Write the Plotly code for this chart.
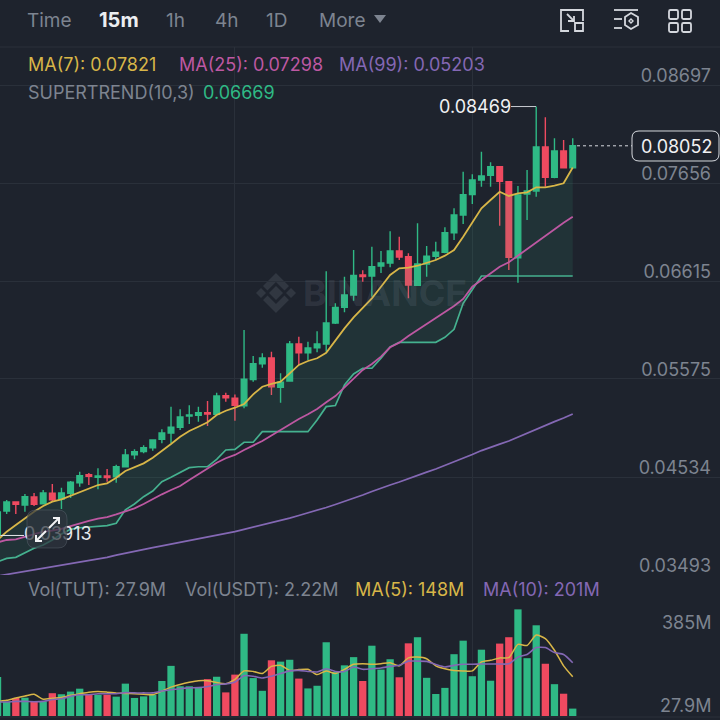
import plotly.graph_objects as go

# Values. Prices are in units of 0.00001 USDT, volumes in millions.
PRICE_UNIT = 1e-5
candle_index = list(range(64))
open_u = [3925,4173,4268,4237,4322,4250,4361,4300,4361,4473,
          4558,4531,4545,4537,4643,4771,4803,4845,4934,5001,
          5062,5182,5189,5217,5200,5398,5370,5291,5568,5737,
          5798,5487,5554,5947,5854,5907,5947,6170,6336,6467,
          6680,6669,6775,6807,6934,6874,6570,6796,6878,6921,
          7129,7317,7533,7689,7738,7830,7671,6863,7540,7572,
          8039,7717,7997,7819]
high_u = [4205,4290,4272,4353,4364,4396,4460,4420,4491,4590,
          4576,4626,4619,4665,4831,4828,4871,4934,5041,5281,
          5253,5296,5281,5341,5429,5429,5410,6095,5819,5848,
          5865,5635,5979,6024,5971,6082,6719,6379,6662,6945,
          6729,6980,6934,7143,7086,6910,7229,6988,7033,7186,
          7388,7777,7749,7989,7877,7830,7671,7625,7795,8469,
          8354,8132,8114,8132]
low_u = [3913,4141,4141,4165,4226,4247,4272,4194,4311,4431,
         4449,4403,4484,4473,4640,4722,4786,4813,4892,4892,
         5033,5097,5121,5076,5192,5334,5132,5264,5546,5695,
         5405,5323,5546,5724,5777,5859,5865,6159,6283,6407,
         6608,6449,6701,6761,6839,6432,6570,6662,6839,6910,
         7051,7221,7434,7617,7617,7203,6733,6598,7264,7511,
         7617,7706,7819,7819]
close_u = [4162,4268,4244,4325,4244,4364,4293,4364,4478,4548,
           4541,4545,4527,4643,4768,4803,4845,4927,5001,5062,
           5171,5192,5217,5203,5394,5376,5296,5572,5737,5798,
           5493,5540,5947,5854,5904,5947,6170,6336,6467,6676,
           6662,6768,6807,6934,6871,6573,6796,6878,6921,7129,
           7317,7533,7689,7731,7830,7675,6868,7529,7572,8039,
           7717,7997,7819,8052]
ma7_u = [3865,3953,4024,4095,4165,4226,4272,4297,4335,4378,
         4414,4449,4467,4527,4598,4637,4679,4739,4810,4884,
         4962,5023,5068,5115,5192,5238,5270,5309,5412,5493,
         5522,5546,5635,5724,5766,5795,5854,5989,6113,6230,
         6336,6432,6555,6680,6751,6757,6778,6810,6839,6885,
         6945,7086,7235,7388,7476,7564,7519,7547,7558,7611,
         7611,7628,7654,7821]
ma25_u = [3840,3865,3872,3900,3929,3953,3964,3982,4013,4042,
          4067,4091,4109,4138,4173,4201,4247,4300,4350,4396,
          4438,4502,4563,4619,4686,4733,4768,4821,4869,4916,
          4975,5033,5097,5150,5200,5256,5327,5394,5487,5582,
          5671,5734,5812,5912,5961,6032,6095,6159,6223,6287,
          6350,6425,6555,6626,6698,6768,6815,6885,6963,7033,
          7104,7168,7235,7298]
ma99_u = [3482,3498,3514,3530,3546,3562,3578,3594,3610,3626,
          3642,3663,3681,3705,3727,3748,3769,3785,3803,3822,
          3838,3856,3875,3891,3913,3934,3955,3978,4001,4024,
          4047,4072,4098,4125,4152,4178,4210,4242,4274,4309,
          4343,4380,4417,4449,4481,4518,4550,4585,4619,4656,
          4693,4733,4773,4815,4853,4884,4916,4959,5001,5044,
          5086,5123,5161,5203]
supertrend_u = [3634,3670,3681,3730,3777,3812,3865,3928,3978,3995,
                4003,4013,4017,4042,4186,4247,4325,4385,4484,4531,
                4584,4633,4643,4643,4722,4821,4828,4903,4903,5015,
                5015,5015,5015,5015,5015,5139,5281,5293,5511,5628,
                5689,5689,5795,5915,5965,5965,5965,5965,5965,6018,
                6103,6379,6520,6669,6669,6669,6669,6669,6669,6669,
                6669,6669,6669,6669]
volume_m = [147,53,68,69,55,55,86,82,92,103,
            80,80,80,73,122,68,74,80,132,189,
            112,112,107,139,148,89,156,310,143,95,
            210,205,212,141,104,114,278,166,191,222,
            132,265,175,214,146,274,297,144,83,106,
            233,284,150,250,133,273,297,402,218,342,
            197,120,84,27.9]
vol_ma5_m = [55,59,68,75,82,63,67,70,78,84,
             90,92,90,87,85,84,82,80,94,109,
             119,127,133,133,126,122,138,170,168,160,
             187,191,172,175,176,156,170,160,176,195,
             197,195,197,201,189,219,222,216,189,178,
             172,170,170,204,210,219,220,270,266,305,
             292,248,189,148]
vol_ma10_m = [53,53,55,55,54,55,62,65,74,80,
              80,84,84,84,88,87,87,87,94,99,
              103,106,107,111,118,121,128,152,150,143,
              150,160,170,172,168,166,178,168,168,185,
              176,178,181,187,191,207,207,206,194,185,
              191,195,195,196,196,196,197,222,232,258,
              258,239,232,201]
price_ticks = [0.08697, 0.07656, 0.06615, 0.05575, 0.04534, 0.03493]
price_tick_labels = ["0.08697", "0.07656", "0.06615", "0.05575", "0.04534", "0.03493"]
time_ticks = [26, 52]

o = [v * PRICE_UNIT for v in open_u]
h = [v * PRICE_UNIT for v in high_u]
l = [v * PRICE_UNIT for v in low_u]
c = [v * PRICE_UNIT for v in close_u]
last_price, high_price, low_price = c[-1], max(h), min(l)

BG = "#1e232d"
GRID = "#2a303a"
UP = "#2fb985"
DOWN = "#ef4a60"
GREY = "#7d8490"
YEL = "#d8b648"
PINK = "#bd58a2"
PUR = "#8468b4"
ST = "#45b18f"
FONT = "Inter"

W, H = 720, 720
def px(x): return x / W
def py(y): return 1 - y / H

fig = go.Figure()
fig.add_trace(go.Candlestick(
    x=candle_index, open=o, high=h, low=l, close=c, whiskerwidth=0,
    increasing=dict(line=dict(color=UP, width=1.4), fillcolor=UP),
    decreasing=dict(line=dict(color=DOWN, width=1.4), fillcolor=DOWN),
    xaxis="x", yaxis="y", showlegend=False, hoverinfo="skip"))
fig.add_trace(go.Scatter(x=candle_index, y=[v * PRICE_UNIT for v in supertrend_u], mode="lines",
                         line=dict(color=ST, width=1.7), showlegend=False, hoverinfo="skip"))
fig.add_trace(go.Scatter(x=candle_index, y=[v * PRICE_UNIT for v in ma7_u], mode="lines",
                         line=dict(color=YEL, width=1.8), fill="tonexty",
                         fillcolor="rgba(60,170,130,0.12)", showlegend=False, hoverinfo="skip"))
fig.add_trace(go.Scatter(x=candle_index, y=[v * PRICE_UNIT for v in ma25_u], mode="lines",
                         line=dict(color=PINK, width=1.8), showlegend=False, hoverinfo="skip"))
fig.add_trace(go.Scatter(x=candle_index, y=[v * PRICE_UNIT for v in ma99_u], mode="lines",
                         line=dict(color=PUR, width=1.8), showlegend=False, hoverinfo="skip"))
# low-price marker: a trace so that the expand button can sit on top of it
fig.add_trace(go.Scatter(x=[0.3, 2.9], y=[low_price, low_price], mode="lines+text",
                         text=["", f"{low_price:.5f}"], textposition="middle right",
                         textfont=dict(family=FONT, size=18, color="#e6e8ec"),
                         line=dict(color="#e6e8ec", width=1), showlegend=False, hoverinfo="skip"))
fig.add_trace(go.Bar(x=candle_index, y=volume_m, width=0.8,
                     marker=dict(color=[UP if cc >= oo else DOWN for oo, cc in zip(o, c)], line=dict(width=0)),
                     xaxis="x2", yaxis="y2", showlegend=False, hoverinfo="skip"))
fig.add_trace(go.Scatter(x=candle_index, y=vol_ma5_m, mode="lines", xaxis="x2", yaxis="y2",
                         line=dict(color=YEL, width=1.5, shape="spline", smoothing=0.6),
                         showlegend=False, hoverinfo="skip"))
fig.add_trace(go.Scatter(x=candle_index, y=vol_ma10_m, mode="lines", xaxis="x2", yaxis="y2",
                         line=dict(color=PUR, width=1.6, shape="spline", smoothing=0.6),
                         showlegend=False, hoverinfo="skip"))

anns = []
def text(x, y, s, color, size=18, anchor="left", bold=False):
    anns.append(dict(xref="paper", yref="paper", x=px(x), y=py(y), text=f"<b>{s}</b>" if bold else s,
                     showarrow=False, xanchor=anchor, yanchor="middle",
                     font=dict(family=FONT, size=size, color=color), borderpad=0, borderwidth=0))

for x, s, col, sz, b in [(27, "Time", GREY, 19, False), (99, "15m", "#eceef1", 20, True), (166, "1h", GREY, 19, False),
                         (215, "4h", GREY, 19, False), (266, "1D", GREY, 19, False), (319, "More", GREY, 19, False)]:
    text(x, 20, s, col, sz, bold=b)
text(28, 64, "MA(7): 0.07821", YEL)
text(179, 64, "MA(25): 0.07298", PINK)
text(339, 64, "MA(99): 0.05203", PUR)
text(28, 92, "SUPERTREND(10,3)", GREY); text(203, 92, "0.06669", UP)
text(28, 589, "Vol(TUT): 27.9M", GREY); text(185, 589, "Vol(USDT): 2.22M", GREY)
text(355, 589, "MA(5): 148M", YEL); text(483, 589, "MA(10): 201M", PUR)
text(711, 622, "385M", GREY, anchor="right"); text(711, 705, "27.9M", GREY, anchor="right")
text(439, 106, f"{high_price:.5f}", "#f0f1f3")
text(676, 147, f"{last_price:.5f}", "#f0f1f3", anchor="center")
text(385, 293, "BINANCE", "rgba(150,160,175,0.14)", 36, anchor="center", bold=True)

shapes = []
def path(d, stroke=None, fill=None, width=1.8, layer="above"):
    shapes.append(dict(type="path", path=d, xref="paper", yref="paper", layer=layer,
                       line=dict(color=stroke or "rgba(0,0,0,0)", width=width if stroke else 0),
                       fillcolor=fill or "rgba(0,0,0,0)"))
def poly(points, close=False):
    return "M" + " L".join(f"{px(a):.5f},{py(b):.5f}" for a, b in points) + (" Z" if close else "")

# section rules
for yy in (47, 717):
    shapes.append(dict(type="line", xref="paper", yref="paper", x0=0, x1=1, y0=py(yy), y1=py(yy),
                       line=dict(color=GRID, width=1), layer="below"))
# tab triangle
path(poly([(374, 15), (386, 15), (380, 23)], True), fill=GREY, layer="above")
# watermark logo
wm = "rgba(150,160,175,0.16)"
cx, cy = 276, 293
for dx, dy, r in [(0, 0, 7), (-15, 0, 5), (15, 0, 5)]:
    path(poly([(cx+dx-r, cy+dy), (cx+dx, cy+dy-r), (cx+dx+r, cy+dy), (cx+dx, cy+dy+r)], True), fill=wm, layer="below")
path(poly([(cx, cy-20), (cx+13, cy-7), (cx+8.5, cy-2.5), (cx, cy-11), (cx-8.5, cy-2.5), (cx-13, cy-7)], True), fill=wm, layer="below")
path(poly([(cx, cy+20), (cx+13, cy+7), (cx+8.5, cy+2.5), (cx, cy+11), (cx-8.5, cy+2.5), (cx-13, cy+7)], True), fill=wm, layer="below")
# dashed last-price line, high marker
shapes.append(dict(type="line", xref="paper", yref="y", x0=px(577), x1=px(632), y0=last_price, y1=last_price,
                   line=dict(color="#d8dbe0", width=1, dash="3px,3px"), layer="above"))
shapes.append(dict(type="line", xref="paper", yref="y", x0=px(511), x1=px(536), y0=high_price, y1=high_price,
                   line=dict(color="#c9ccd2", width=1), layer="above"))
# price tag
def rrect(x0, y0, x1, y1, r):
    k = r
    return (f"M{px(x0+k):.5f},{py(y0):.5f} L{px(x1-k):.5f},{py(y0):.5f} Q{px(x1):.5f},{py(y0):.5f} {px(x1):.5f},{py(y0+k):.5f} "
            f"L{px(x1):.5f},{py(y1-k):.5f} Q{px(x1):.5f},{py(y1):.5f} {px(x1-k):.5f},{py(y1):.5f} "
            f"L{px(x0+k):.5f},{py(y1):.5f} Q{px(x0):.5f},{py(y1):.5f} {px(x0):.5f},{py(y1-k):.5f} "
            f"L{px(x0):.5f},{py(y0+k):.5f} Q{px(x0):.5f},{py(y0):.5f} {px(x0+k):.5f},{py(y0):.5f} Z")
path(rrect(632, 131, 719, 161, 7), stroke="#d5d8dd", fill=BG, width=1)
# expand button
path(rrect(27, 510, 67, 548, 9), stroke="rgba(110,118,130,0.35)", fill="rgba(46,52,62,0.72)", width=1)
path(poly([(49, 528), (59, 518)]), stroke="#f2f3f5", width=2)
path(poly([(53, 518), (59, 518), (59, 524)]), stroke="#f2f3f5", width=2)
path(poly([(46, 531), (36, 541)]), stroke="#f2f3f5", width=2)
path(poly([(36, 535), (36, 541), (42, 541)]), stroke="#f2f3f5", width=2)
# toolbar icons
ic = "#d5d8de"
path(poly([(572, 10), (561, 10), (561, 31), (569, 31)]), stroke=ic)
path(poly([(572, 10), (583, 10), (583, 21)]), stroke=ic)
path(poly([(575, 23), (583, 23), (583, 31), (575, 31)], True), stroke=ic)
path(poly([(567, 14), (574, 21)]), stroke=ic)
path(poly([(568, 21), (574, 21), (574, 16)]), stroke=ic)
path(poly([(614, 10), (638, 10)]), stroke=ic)
path(poly([(614, 19), (622, 19)]), stroke=ic)
path(poly([(614, 28), (622, 28)]), stroke=ic)
path(poly([(631, 13), (638, 17), (638, 25), (631, 29), (625, 25), (625, 17)], True), stroke=ic)
path(poly([(631, 19), (633, 21), (631, 23), (629, 21)], True), stroke=ic, width=1.4)
for x0, y0 in [(669, 10), (682, 10), (669, 23), (682, 23)]:
    path(rrect(x0, y0, x0 + 9, y0 + 9, 1.5), stroke=ic)

fig.update_layout(
    width=W, height=H, margin=dict(l=0, r=0, t=0, b=0), paper_bgcolor=BG, plot_bgcolor=BG,
    boxgap=0.12, bargap=0.2, showlegend=False, hovermode=False, dragmode=False,
    font=dict(family=FONT, color=GREY),
    annotations=anns, shapes=shapes,
    xaxis=dict(domain=[0, 1], range=[0.2694, 79.13], tickvals=time_ticks, showticklabels=False, ticks="",
               showgrid=True, gridcolor=GRID, gridwidth=1, zeroline=False, rangeslider=dict(visible=False),
               anchor="y", fixedrange=True),
    yaxis=dict(domain=[py(580), py(47)], range=[0.034399, 0.091014], side="right", tickmode="array",
               tickvals=price_ticks, ticktext=price_tick_labels, ticks="", ticklabelposition="inside top",
               ticklabelstandoff=6, ticklabelshift=3, tickfont=dict(family=FONT, size=18, color=GREY),
               showgrid=True, gridcolor=GRID, gridwidth=1, zeroline=False, anchor="x", fixedrange=True),
    xaxis2=dict(domain=[0, 1], range=[0.2694, 79.13], tickvals=time_ticks, showticklabels=False, ticks="",
                showgrid=True, gridcolor=GRID, gridwidth=1, zeroline=False, anchor="y2", fixedrange=True),
    yaxis2=dict(domain=[py(716), py(575)], range=[0, 531.6], showticklabels=False, ticks="", showgrid=False,
                zeroline=False, anchor="x2", fixedrange=True),
)

fig.write_html("out.html", config=dict(displayModeBar=False, staticPlot=True),
               post_script="document.body.style.margin='0';document.body.style.overflow='hidden';document.body.style.background='" + BG + "';")
